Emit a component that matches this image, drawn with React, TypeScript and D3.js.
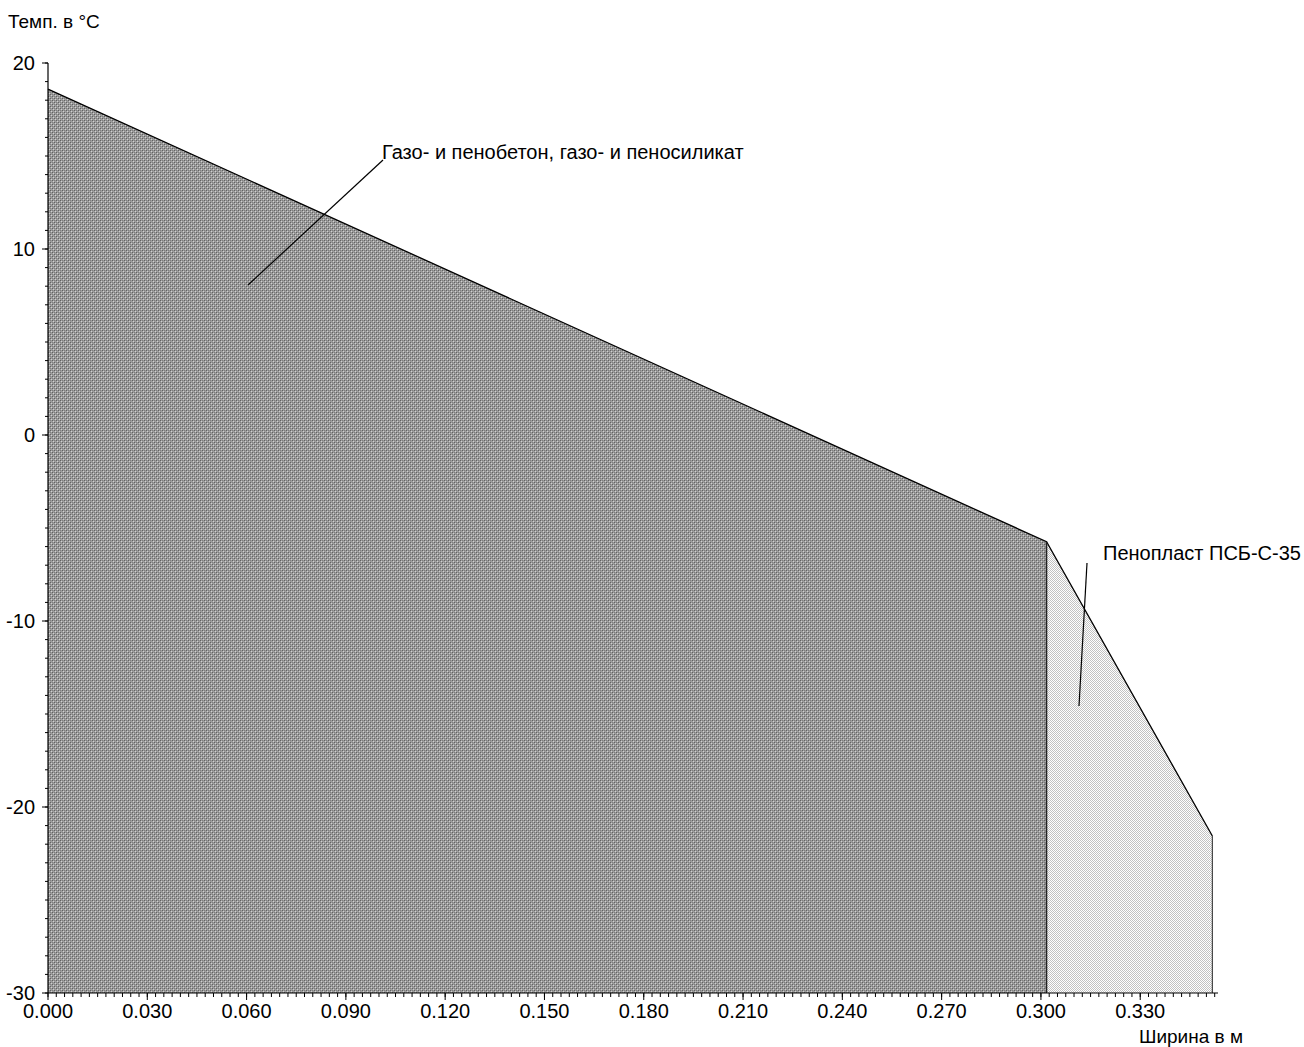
import React from "react";
import * as d3 from "d3";

// Layer boundaries (m) and temperatures (°C)
const positions = [0, 0.3017, 0.3518];
const temps = [18.6, -5.74, -21.56];
const layerNames = ["Газо- и пенобетон, газо- и пеносиликат", "Пенопласт ПСБ-С-35"];
const xMajorTicks = [0, 0.03, 0.06, 0.09, 0.12, 0.15, 0.18, 0.21, 0.24, 0.27, 0.3, 0.33];
const yMajorTicks = [20, 10, 0, -10, -20, -30];
const yTitle = "Темп. в °C";
const xTitle = "Ширина в м";

const W = 1304;
const H = 1047;
const FONT = "'Liberation Sans', Arial, sans-serif";

export default function App() {
  const x = d3.scaleLinear().domain([0, 0.3535]).range([48, 1218]);
  const y = d3.scaleLinear().domain([-30, 20]).range([993, 63]);
  const yMin = -30;

  const xMinor = d3.range(0, 0.3535, 0.0025);
  const yMinor = d3.range(-30, 20.001, 1);

  const area = d3
    .area<number>()
    .x((i) => x(positions[i]))
    .y0(() => y(yMin))
    .y1((i) => y(temps[i]));

  const layer1 = area([0, 1]) || "";
  const layer2 = area([1, 2]) || "";
  const topLine = d3
    .line<number>()
    .x((i) => x(positions[i]))
    .y((i) => y(temps[i]))([0, 1, 2]) || "";

  return (
    <svg
      width={W}
      height={H}
      style={{ position: "absolute", left: 0, top: 0, background: "#fff" }}
      fontFamily={FONT}
    >
      <defs>
        <pattern id="dark" width="4" height="4" patternUnits="userSpaceOnUse">
          <rect width="4" height="4" fill="#9c9c9c" />
          <rect x="0" y="0" width="1" height="1" fill="#626262" />
          <rect x="2" y="2" width="1" height="1" fill="#626262" />
          <rect x="1" y="1" width="1" height="1" fill="#d0d0d0" />
          <rect x="3" y="3" width="1" height="1" fill="#d0d0d0" />
          <rect x="2" y="0" width="1" height="1" fill="#808080" />
          <rect x="0" y="2" width="1" height="1" fill="#808080" />
        </pattern>
        <pattern id="light" width="2" height="2" patternUnits="userSpaceOnUse">
          <rect width="2" height="2" fill="#ffffff" />
          <rect x="0" y="0" width="1" height="1" fill="#c2c2c2" />
          <rect x="1" y="1" width="1" height="1" fill="#c2c2c2" />
        </pattern>
      </defs>

      {/* layers */}
      <path d={layer1} fill="url(#dark)" stroke="none" />
      <path d={layer2} fill="url(#light)" stroke="none" />
      <path d={topLine} fill="none" stroke="#000" strokeWidth={1.3} />
      <line
        x1={x(positions[1])}
        x2={x(positions[1])}
        y1={y(temps[1])}
        y2={y(yMin)}
        stroke="#222"
        strokeWidth={1.5}
      />
      <line
        x1={x(positions[2])}
        x2={x(positions[2])}
        y1={y(temps[2])}
        y2={y(yMin)}
        stroke="#444"
        strokeWidth={1.2}
      />

      {/* axes */}
      <line x1={x(0)} x2={x(0)} y1={y(20)} y2={y(-30)} stroke="#000" strokeWidth={1.2} />
      <line x1={x(0)} x2={x.range()[1]} y1={y(-30)} y2={y(-30)} stroke="#000" strokeWidth={1.2} />

      {yMinor.map((v) => (
        <line key={"ym" + v} x1={x(0) - 3} x2={x(0)} y1={y(v)} y2={y(v)} stroke="#000" strokeWidth={1} />
      ))}
      {yMajorTicks.map((v) => (
        <g key={"yM" + v}>
          <line x1={x(0) - 6} x2={x(0)} y1={y(v)} y2={y(v)} stroke="#000" strokeWidth={1} />
          <text x={35} y={y(v)} dy="0.35em" textAnchor="end" fontSize={20} fill="#000">
            {v}
          </text>
        </g>
      ))}

      {xMinor.map((v, i) => (
        <line key={"xm" + i} x1={x(v)} x2={x(v)} y1={y(-30)} y2={y(-30) + 4} stroke="#000" strokeWidth={1} />
      ))}
      {xMajorTicks.map((v) => (
        <g key={"xM" + v}>
          <line x1={x(v)} x2={x(v)} y1={y(-30)} y2={y(-30) + 7} stroke="#000" strokeWidth={1} />
          <text x={x(v)} y={1018} textAnchor="middle" fontSize={20} fill="#000">
            {d3.format(".3f")(v)}
          </text>
        </g>
      ))}

      {/* titles */}
      <text x={8} y={28} fontSize={19} fill="#000">
        {yTitle}
      </text>
      <text x={1243} y={1043} textAnchor="end" fontSize={19} fill="#000">
        {xTitle}
      </text>

      {/* layer labels */}
      <line x1={383} y1={160} x2={248} y2={285} stroke="#000" strokeWidth={1.2} />
      <text x={382} y={159} fontSize={20} fill="#000">
        {layerNames[0]}
      </text>
      <line x1={1087} y1={563} x2={1079} y2={706} stroke="#000" strokeWidth={1.2} />
      <text x={1103} y={560} fontSize={20} fill="#000">
        {layerNames[1]}
      </text>
    </svg>
  );
}
